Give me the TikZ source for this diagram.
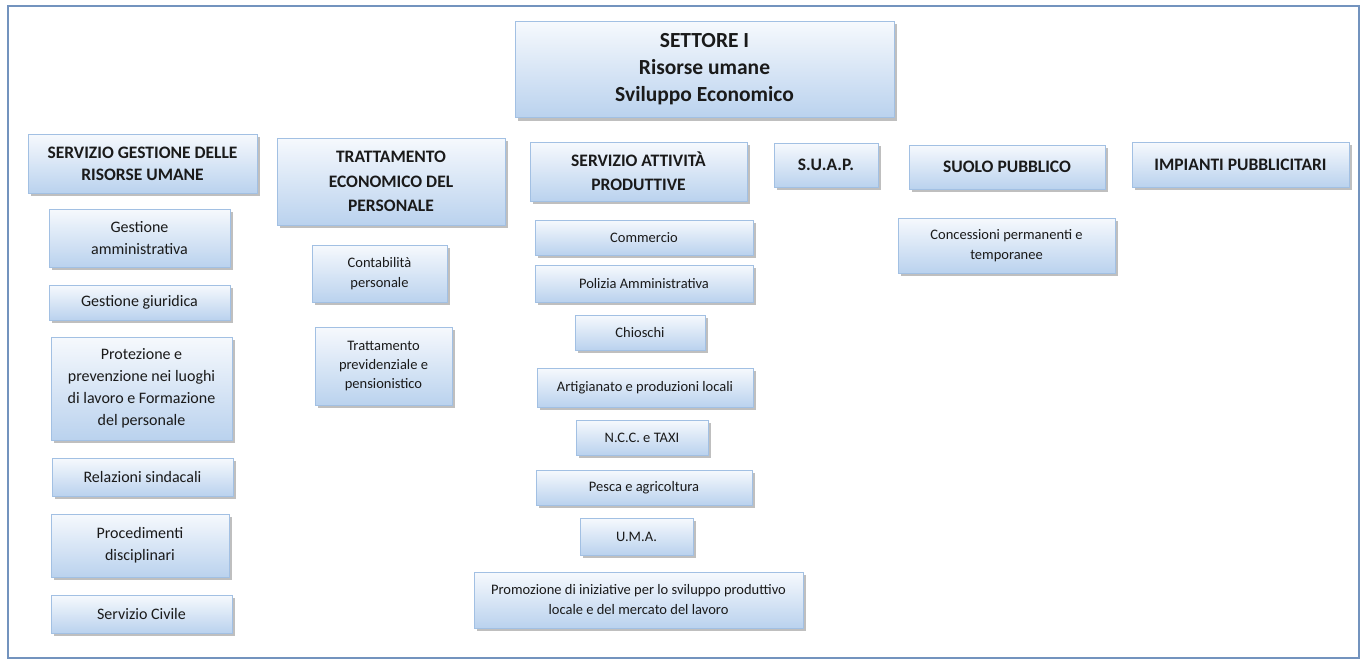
\documentclass[tikz,border=0pt]{standalone}
\usepackage{fontspec}
\setmainfont{Carlito}
\usepackage{tikz}
\usetikzlibrary{shadows}
\definecolor{orgtop}{HTML}{F6F9FD}
\definecolor{orgbottom}{HTML}{BAD2EE}
\definecolor{orgline}{HTML}{A2C0E3}
\definecolor{orgframe}{HTML}{7393BE}
\definecolor{orgtext}{HTML}{1A1A1A}

\begin{document}
\begin{tikzpicture}[x=1pt, y=-1pt,
    unit/.style={draw=orgline, line width=0.8pt, top color=orgtop, bottom color=orgbottom,
        drop shadow={shadow xshift=2.5pt, shadow yshift=-3pt, fill=black!50, opacity=0.5},
        inner sep=0pt, align=center, text=orgtext},
    settore/.style={unit, font=\fontsize{21.5}{27}\selectfont\bfseries},
    servizio/.style={unit, font=\fontsize{17.5}{22}\selectfont\bfseries},
    compito/.style={unit, font=\fontsize{16}{22}\selectfont},
    voce/.style={unit, font=\fontsize{14.5}{20}\selectfont}
]
    \useasboundingbox (0,0) rectangle (1361,661);
    \draw[orgframe, line width=2pt] (8,6) rectangle (1359,658);

    % Settore
    \node[settore, minimum width=379pt, minimum height=96pt] (settore) at (704.5,69.5) {
        SETTORE I\\
        Risorse umane\\
        Sviluppo Economico
    };

    % Servizio gestione delle risorse umane
    \node[servizio, minimum width=229pt, minimum height=59pt] (gru) at (142.5,163.5) {SERVIZIO GESTIONE DELLE\\RISORSE UMANE};
    \node[compito, minimum width=181pt, minimum height=58pt] (amm) at (139.5,238) {Gestione\\amministrativa};
    \node[compito, minimum width=181pt, minimum height=35pt] (giur) at (139.5,302.5) {Gestione giuridica};
    \node[compito, minimum width=181pt, minimum height=103pt] (prot) at (141.5,388.5) {Protezione e\\prevenzione nei luoghi\\di lavoro e Formazione\\del personale};
    \node[compito, minimum width=181pt, minimum height=38pt] (sind) at (142.5,477) {Relazioni sindacali};
    \node[compito, minimum width=178pt, minimum height=63pt] (disc) at (140,545.5) {Procedimenti\\disciplinari};
    \node[compito, minimum width=181pt, minimum height=38pt] (civ) at (141.5,614) {Servizio Civile};

    % Trattamento economico del personale
    \node[servizio, minimum width=228pt, minimum height=87pt, font=\fontsize{17.5}{24.5}\selectfont\bfseries] (tec) at (391,181.5) {TRATTAMENTO\\ECONOMICO DEL\\PERSONALE};
    \node[voce, minimum width=135pt, minimum height=57pt] (cont) at (379.5,273.5) {Contabilità\\personale};
    \node[voce, minimum width=137pt, minimum height=78pt, font=\fontsize{14.5}{19}\selectfont] (prev) at (383.5,366) {Trattamento\\previdenziale e\\pensionistico};

    % Servizio attivita produttive
    \node[servizio, minimum width=217pt, minimum height=59pt, font=\fontsize{17.5}{24}\selectfont\bfseries] (sap) at (638.5,171.5) {SERVIZIO ATTIVITÀ\\PRODUTTIVE};
    \node[voce, minimum width=218pt, minimum height=35pt] (comm) at (644,237.5) {Commercio};
    \node[voce, minimum width=218pt, minimum height=37pt] (pol) at (644,283.5) {Polizia Amministrativa};
    \node[voce, minimum width=130pt, minimum height=35pt] (chio) at (640,332.5) {Chioschi};
    \node[voce, minimum width=216pt, minimum height=39pt] (art) at (645,387.5) {Artigianato e produzioni locali};
    \node[voce, minimum width=132pt, minimum height=35pt] (ncc) at (642,437.5) {N.C.C. e TAXI};
    \node[voce, minimum width=216pt, minimum height=35pt] (pesca) at (644,487.5) {Pesca e agricoltura};
    \node[voce, minimum width=113pt, minimum height=37pt] (uma) at (636.5,536.5) {U.M.A.};
    \node[voce, minimum width=329pt, minimum height=56pt] (prom) at (638.5,600) {Promozione di iniziative per lo sviluppo produttivo\\locale e del mercato del lavoro};

    % S.U.A.P., suolo pubblico, impianti
    \node[servizio, minimum width=104pt, minimum height=44pt] (suap) at (826,165) {S.U.A.P.};
    \node[servizio, minimum width=196pt, minimum height=44pt] (suolo) at (1007,167) {SUOLO PUBBLICO};
    \node[voce, minimum width=217pt, minimum height=55pt] (conc) at (1006.5,245.5) {Concessioni permanenti e\\temporanee};
    \node[servizio, minimum width=217pt, minimum height=45pt] (imp) at (1240.5,164.5) {IMPIANTI PUBBLICITARI};
\end{tikzpicture}
\end{document}
